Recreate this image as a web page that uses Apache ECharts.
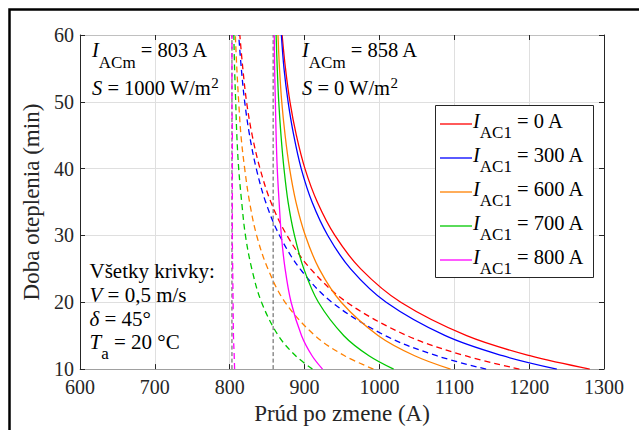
<!DOCTYPE html>
<html>
<head>
<meta charset="utf-8">
<script src="https://cdn.jsdelivr.net/npm/echarts@6/dist/echarts.min.js"></script>
<style>
html,body{margin:0;padding:0;background:#fff;}
#c{width:639px;height:430px;}
</style>
</head>
<body>
<div id="c"></div>
<script>
// ---------------- data ----------------
const tMinutes = [10, 12, 15, 20, 25, 30, 35, 40, 45, 50, 55, 60];
const xTicks = [600, 700, 800, 900, 1000, 1100, 1200, 1300];
const yTicks = [10, 20, 30, 40, 50, 60];
const iacmValues = [803, 858];          // asymptotes: S = 1000 W/m2, S = 0 W/m2
const iac1Labels = ['0', '300', '600', '700', '800'];

// solid lines: S = 0 W/m2 (I_ACm = 858 A), current (A) at each tMinutes
const solid0   = [1281, 1201, 1116.5, 1028.5, 975, 940.5, 917, 900.5, 889, 880.5, 874.5, 870];
const solid300 = [1237, 1164.5, 1088, 1009, 961.5, 931, 910, 895.5, 885.5, 878, 872.5, 869];
const solid600 = [1095, 1047, 998.5, 949, 919.5, 901, 888.5, 880, 874, 869.5, 866.5, 864.5];
const solid700 = [1019, 986, 952.5, 918.5, 899, 886.5, 878, 872.5, 868.5, 865.5, 863.5, 862];
const solid800 = [924, 910, 896, 882, 874, 869, 866, 863.5, 862, 861, 860, 859.5];

// dashed lines: S = 1000 W/m2 (I_ACm = 803 A)
const dash0   = [1187, 1114.5, 1037, 956.5, 908, 876.5, 855, 840.5, 830, 822.5, 817.5, 813.5];
const dash300 = [1142.5, 1076.5, 1008, 936.5, 894, 866.5, 848, 835.5, 826.5, 820, 815.5, 812];
const dash600 = [992, 953.5, 914, 874, 851, 836, 826.5, 820, 815, 812, 809.5, 807.5];
const dash700 = [910.5, 888, 865, 842.5, 829.5, 821, 816, 812, 809.5, 808, 806.5, 805.5];
const dash800 = [806.5, 806, 805, 804.5, 804, 803.5, 803.5, 803.5, 803.5, 803, 803, 803];

const solidSets = [solid0, solid300, solid600, solid700, solid800];
const dashSets = [dash0, dash300, dash600, dash700, dash800];

// ---------------- styles ----------------
const colors = ['#ff0000', '#0000ff', '#ff8000', '#00c800', '#ff00ff'];
const FONT = 'Liberation Serif';
const INK = '#262626';

const chart = echarts.init(document.getElementById('c'), null, {renderer: 'svg'});

const toPairs = (arr) => tMinutes.map((t, k) => [arr[k], t]);

const series = [];
iacmValues.forEach((v, k) => {
  series.push({
    name: 'IACm ' + v, type: 'line', xAxisIndex: 0, yAxisIndex: 0,
    data: [[v, yTicks[0]], [v, yTicks[yTicks.length - 1]]],
    symbol: 'none', silent: true, animation: false,
    lineStyle: {color: '#555555', width: 1, type: [4, 2.5]}
  });
});
dashSets.forEach((arr, k) => {
  series.push({
    name: 'S=1000, IAC1 = ' + iac1Labels[k] + ' A', type: 'line',
    data: toPairs(arr), symbol: 'none', smooth: 0.35,
    silent: true, animation: false,
    lineStyle: {color: colors[k], width: 1.3, type: [6, 4]}
  });
});
solidSets.forEach((arr, k) => {
  series.push({
    name: 'IAC1 = ' + iac1Labels[k] + ' A', type: 'line',
    data: toPairs(arr), symbol: 'none', smooth: 0.35,
    silent: true, animation: false,
    lineStyle: {color: colors[k], width: 1.3, type: 'solid'}
  });
});

// ---------------- text annotations (rich text with sub/superscripts) ----------------
const richStyles = (fs) => ({
  i: {fontFamily: FONT, fontSize: fs, fontStyle: 'italic', fill: '#000'},
  n: {fontFamily: FONT, fontSize: fs, fill: '#000'},
  s: {fontFamily: FONT, fontSize: 17, fill: '#000', padding: [24, 0, 0, 0]},
  p: {fontFamily: FONT, fontSize: 15, fill: '#000', padding: [0, 0, 10, 0]}
});
const txt = (x, y, text, fs) => ({
  type: 'text', x: x, y: y, z: 100, silent: true,
  style: {text: text, rich: richStyles(fs), align: 'left', verticalAlign: 'middle',
          fontFamily: FONT, fontSize: fs, fill: '#000'}
});

const graphics = [
  {type: 'polyline', silent: true, z: 100,
   shape: {points: [[9.5, 430], [9.5, 9.5], [639, 9.5]]},
   style: {stroke: '#000', lineWidth: 2.5, fill: null}},
  txt(92, 50, '{i|I}{s|ACm}{n| = ' + iacmValues[0] + ' A}', 20.5),
  txt(92, 88, '{i|S}{n| = 1000 W/m}{p|2}', 20.5),
  txt(302, 50, '{i|I}{s|ACm}{n| = ' + iacmValues[1] + ' A}', 20.5),
  txt(302, 88, '{i|S}{n| = 0 W/m}{p|2}', 20.5),
  txt(89.5, 270.5, '{n|Všetky krivky:}', 21),
  txt(89.5, 294.5, '{i|V}{n| = 0,5 m/s}', 21),
  txt(89.5, 318.5, '{i|δ}{n| = 45°}', 21),
  txt(89.5, 341.5, '{i|T}{s|a}{n| = 20 °C}', 21),
  {type: 'rect', silent: true, z: 90,
   shape: {x: 435.5, y: 105.5, width: 158, height: 172},
   style: {fill: '#fff', stroke: INK, lineWidth: 1}}
];
iac1Labels.forEach((lab, k) => {
  const ly = 124 + k * 34;
  graphics.push({type: 'line', silent: true, z: 95,
    shape: {x1: 440, y1: ly, x2: 472, y2: ly},
    style: {stroke: colors[k], lineWidth: 1.3}});
  const g = txt(473, ly - 3.5, '{i|I}{s|AC1}{n| = ' + lab + ' A}', 20.5);
  g.z = 95;
  graphics.push(g);
});

const plainNum = (v) => String(v);
const axisLabelStyle = {fontFamily: FONT, fontSize: 20, color: INK, formatter: plainNum};

chart.setOption({
  backgroundColor: '#fff',
  animation: false,
  textStyle: {fontFamily: FONT},
  grid: {left: 80, right: 35, top: 35, bottom: 58, containLabel: false},
  xAxis: [
    {type: 'value', position: 'bottom', min: xTicks[0], max: xTicks[xTicks.length - 1], interval: 100,
     axisLine: {show: true, onZero: false, lineStyle: {color: '#a0a0a0', width: 1}},
     axisTick: {show: true, inside: true, length: 5, lineStyle: {color: INK}},
     axisLabel: Object.assign({margin: 8, showMinLabel: true, showMaxLabel: true}, axisLabelStyle),
     splitLine: {show: true, lineStyle: {color: '#dfdfdf', width: 1}},
     name: 'Prúd po zmene (A)', nameLocation: 'middle', nameGap: 26,
     nameTextStyle: {fontFamily: FONT, fontSize: 23, color: INK}},
    {type: 'value', position: 'top', min: xTicks[0], max: xTicks[xTicks.length - 1], interval: 100,
     axisLine: {show: true, onZero: false, lineStyle: {color: '#c0c0c0', width: 1}},
     axisTick: {show: true, inside: true, length: 5, lineStyle: {color: INK}},
     axisLabel: {show: false}, splitLine: {show: false}}
  ],
  yAxis: [
    {type: 'value', position: 'left', min: yTicks[0], max: yTicks[yTicks.length - 1], interval: 10,
     axisLine: {show: true, onZero: false, lineStyle: {color: INK, width: 1}},
     axisTick: {show: true, inside: true, length: 5, lineStyle: {color: INK}},
     axisLabel: Object.assign({margin: 6, showMinLabel: true, showMaxLabel: true}, axisLabelStyle),
     splitLine: {show: true, lineStyle: {color: '#dfdfdf', width: 1}},
     name: 'Doba oteplenia (min)', nameLocation: 'middle', nameGap: 32, nameRotate: 90,
     nameTextStyle: {fontFamily: FONT, fontSize: 23, color: INK}},
    {type: 'value', position: 'right', min: yTicks[0], max: yTicks[yTicks.length - 1], interval: 10,
     axisLine: {show: true, onZero: false, lineStyle: {color: INK, width: 1}},
     axisTick: {show: true, inside: true, length: 5, lineStyle: {color: INK}},
     axisLabel: {show: false}, splitLine: {show: false}}
  ],
  series: series,
  graphic: graphics
});
</script>
</body>
</html>
